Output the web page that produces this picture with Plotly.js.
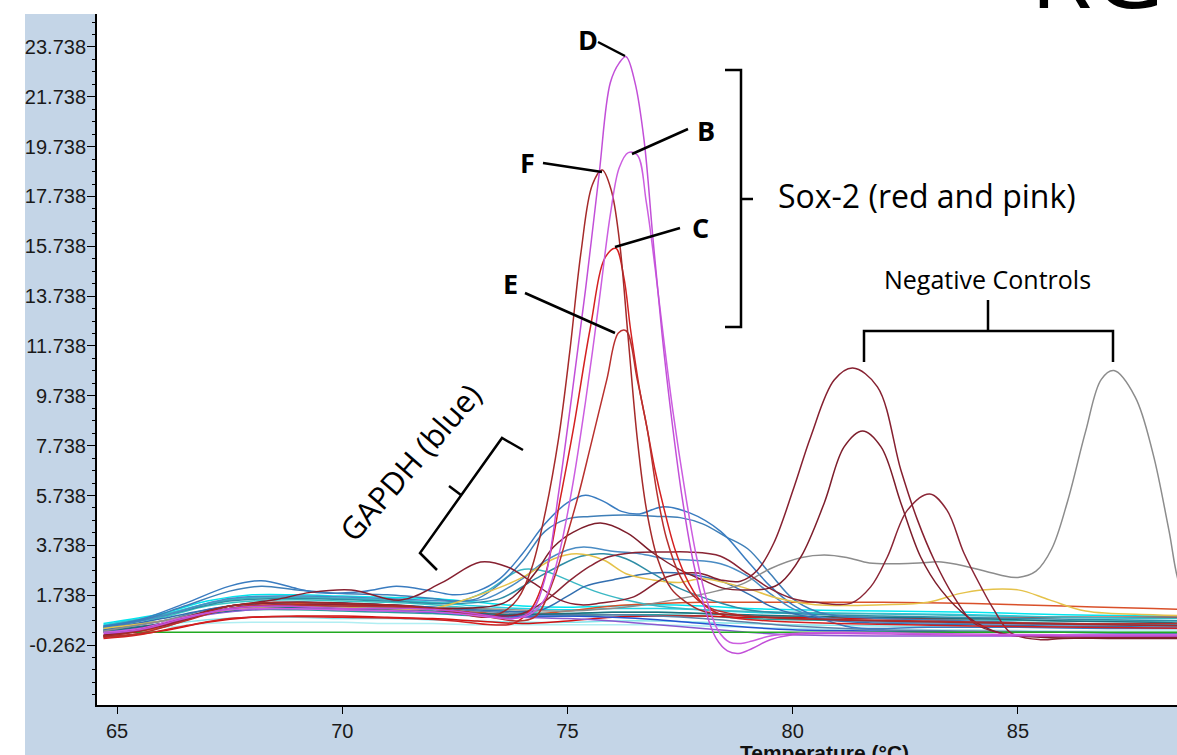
<!DOCTYPE html>
<html><head><meta charset="utf-8">
<script src="https://cdn.plot.ly/plotly-3.0.1.min.js"></script>
<style>
html,body{margin:0;padding:0;background:#fff;width:1177px;height:755px;overflow:hidden}
#panel{position:absolute;left:25px;top:14px;width:1152px;height:741px;background:#c4d5e7}
#chart{position:absolute;left:0;top:0;width:1177px;height:755px}
</style></head>
<body><div id="panel"></div><div id="chart"></div>
<script>
// ---------- tick labels ----------
const xTickVals = [65, 70, 75, 80, 85];
const xTickText = ['65', '70', '75', '80', '85'];
const yTickVals = [-0.262, 1.738, 3.738, 5.738, 7.738, 9.738, 11.738, 13.738, 15.738, 17.738, 19.738, 21.738, 23.738];
const yTickText = ['-0.262', '1.738', '3.738', '5.738', '7.738', '9.738', '11.738', '13.738', '15.738', '17.738', '19.738', '21.738', '23.738'];

// ---------- baseline wells (shared temperature grid, °C) ----------
const tempBase = [64.7, 66, 67, 68, 69, 70, 71, 72, 73, 74, 75, 76, 77, 78, 79, 80, 82, 84, 86, 88, 89];
const baseCyan1  = [0.6,1.0,1.5,1.75,1.75,1.7,1.65,1.6,1.45,1.3,1.25,1.3,1.35,1.3,1.2,1.15,1.1,1.05,0.95,0.9,0.9];
const baseCyan2  = [0.55,0.95,1.4,1.65,1.65,1.6,1.55,1.45,1.3,1.2,1.15,1.2,1.2,1.15,1.05,1.0,1.0,0.95,0.85,0.8,0.8];
const baseTurq   = [0.5,0.85,1.3,1.5,1.55,1.5,1.45,1.35,1.2,1.05,1.0,1.05,1.05,1.0,0.9,0.85,0.8,0.75,0.7,0.7,0.7];
const baseLCyan  = [0.4,0.55,0.75,0.85,0.85,0.8,0.8,0.75,0.7,0.65,0.65,0.7,0.7,0.65,0.6,0.55,0.5,0.45,0.45,0.4,0.4];
const basePCyan  = [0.35,0.45,0.6,0.65,0.65,0.65,0.6,0.6,0.55,0.55,0.55,0.55,0.55,0.5,0.45,0.4,0.35,0.35,0.3,0.3,0.3];
const baseTeal   = [0.45,0.7,1.0,1.15,1.15,1.1,1.05,1.0,0.9,0.85,0.9,0.95,0.95,0.9,0.8,0.75,0.7,0.65,0.6,0.55,0.55];
const baseRed    = [0.05,0.3,0.65,0.85,0.9,0.9,0.85,0.8,0.7,0.6,0.7,0.85,0.9,0.9,0.85,0.85,0.8,0.8,0.85,0.85,0.85];
const baseOrange = [0.1,0.45,1.0,1.35,1.4,1.35,1.3,1.2,1.05,0.95,1.1,1.3,1.4,1.45,1.45,1.45,1.45,1.4,1.3,1.2,1.15];
const basePurple = [0.25,0.55,0.95,1.15,1.2,1.15,1.1,1.05,0.95,0.85,0.8,0.7,0.55,0.4,0.25,0.15,0.1,0.1,0.1,0.1,0.1];
const baseDBlue  = [0.3,0.6,1.0,1.2,1.25,1.2,1.15,1.05,0.95,0.9,0.9,0.85,0.75,0.6,0.45,0.35,0.3,0.25,0.25,0.2,0.2];
const baseSteel  = [0.35,0.7,1.15,1.4,1.45,1.4,1.35,1.25,1.1,1.0,0.95,0.95,0.9,0.8,0.65,0.5,0.35,0.3,0.25,0.2,0.2];
const baseDTeal  = [0.3,0.6,1.0,1.2,1.25,1.2,1.15,1.1,1.0,0.95,1.0,1.05,1.05,1.0,0.95,0.9,0.85,0.8,0.7,0.65,0.6];
const baseGreen  = [0.25,0.25,0.25,0.25,0.25,0.25,0.25,0.25,0.25,0.25,0.25,0.25,0.25,0.25,0.25,0.25,0.25,0.25,0.25,0.25,0.25];

// ---------- GAPDH (blue) ----------
const g1T = [64.7,65.5,66.5,67.5,68.2,69,69.5,70.5,71.2,72,72.5,73,73.5,74,74.5,75,75.4,75.8,76.2,76.6,77.1,77.7,78.4,79,79.5,80,80.5,81.3,83,85,87,89];
const g1V = [0.5,0.75,1.4,2.1,2.32,2.0,1.83,1.9,2.1,1.9,1.75,1.9,2.4,3.4,4.6,5.45,5.75,5.5,5.1,5.0,5.28,5.05,4.3,3.1,2.1,1.35,0.9,0.45,0.45,0.45,0.4,0.4];
const g2T = [64.7,65.5,66.5,67.5,68.2,69,70,71,72,72.5,73,73.5,74,74.5,75,75.5,76,76.5,77,77.5,78,78.5,79,79.5,80,80.5,81,82,84,86,89];
const g2V = [0.45,0.7,1.3,1.9,2.1,1.95,1.8,1.75,1.6,1.5,1.6,2.2,3.1,4.3,4.8,4.9,4.95,4.95,4.9,4.85,4.6,4.1,3.6,2.6,1.6,1.1,0.9,0.8,0.7,0.6,0.6];
const g3T = [64.7,66,67.5,69,71,72.5,73.2,73.96,74.5,75,75.36,76,76.6,77.2,77.7,78.4,79,79.5,80,80.5,81.5,84,89];
const g3V = [0.4,0.9,1.6,1.7,1.6,1.5,1.6,2.35,3.1,3.55,3.67,3.5,3.4,3.2,3.15,3.0,2.5,1.8,1.2,0.9,0.7,0.6,0.5];
const g4T = [64.7,66,67.5,69,71,72.5,73.5,74.4,75,75.4,76,76.9,77.6,78.4,79,79.5,80,81,84,89];
const g4V = [0.35,0.8,1.3,1.45,1.35,1.2,1.1,1.14,1.7,2.1,2.35,2.63,2.6,2.3,1.8,1.3,1.0,0.7,0.55,0.45];
const g5T = [64.7,66,67.5,69,71,72.5,73.5,74.2,74.8,75.3,75.8,76.3,76.9,77.5,78.4,79,80,82,85,89];
const g5V = [0.45,0.9,1.5,1.6,1.5,1.4,1.6,2.3,2.9,3.3,3.4,3.2,2.6,2.0,1.42,1.15,1.0,0.9,0.8,0.7];
const t1T = [64.7,66,67.5,69,71,72.5,73.2,73.96,74.5,75,75.6,76.3,77,78,80,83,86,89];
const t1V = [0.5,0.95,1.55,1.65,1.55,1.45,1.9,2.75,2.7,2.35,1.9,1.54,1.3,1.15,1.05,0.95,0.85,0.8];

// ---------- other wells ----------
const yelT = [64.7,66,67.5,69,71,72,72.8,73.5,74,74.7,75.2,75.8,76.3,76.9,77.5,78,78.9,79.7,80.5,82,83,83.7,84.2,85,85.7,86.5,88,89];
const yelV = [0.4,0.7,1.15,1.3,1.2,1.2,1.6,2.05,2.45,3.2,3.4,3.15,2.6,2.35,2.25,2.4,2.05,1.6,1.35,1.35,1.45,1.8,1.95,1.95,1.55,1.1,0.95,0.9];

// ---------- negative controls ----------
const n1T = [64.7,65.5,66.5,67.5,68.5,69.3,70.2,71.3,72.2,73.07,73.67,74.24,74.84,75.3,75.73,76.47,77.2,77.9,78.4,78.84,79.22,79.58,80.03,80.4,80.92,81.33,81.88,82.4,82.77,83.14,83.58,84.02,84.6,85.5,87,89];
const n1V = [0.1,0.3,0.8,1.3,1.55,1.85,1.95,1.54,2.23,3.07,2.87,2.23,1.54,1.35,1.42,1.67,2.47,2.63,2.35,2.3,2.75,3.83,6.08,8.1,10.37,10.85,10.1,6.76,4.75,3.15,1.67,0.62,0.22,0.1,0.05,0.05];
const n2T = [64.7,66,67.5,69,71,72.5,73.58,73.96,74.33,74.69,75.13,75.73,76.33,76.9,77.5,78,78.5,79.0,79.44,79.73,80.18,80.7,81.14,81.55,81.96,82.4,82.84,83.29,83.89,84.6,85.5,87,89];
const n2V = [0.1,0.6,1.3,1.45,1.35,1.2,1.42,1.95,2.75,3.67,4.27,4.63,4.23,3.43,2.75,2.35,2.0,1.95,2.0,2.23,3.27,5.44,7.69,8.33,7.69,5.44,3.27,1.95,0.86,0.22,0.05,0.0,0.0];
const n3T = [64.7,66,67.5,69,71,72.5,73.5,74,74.5,75.07,75.5,75.9,76.5,77.2,77.67,78.4,79,79.5,80,80.5,81.3,81.73,82.1,82.55,83.04,83.42,83.8,84.18,84.47,84.84,85.5,86,89];
const n3V = [0.15,0.5,1.2,1.35,1.3,1.1,0.9,1.0,1.5,2.35,2.9,3.27,3.45,3.47,3.47,3.3,2.6,2.0,1.6,1.45,1.42,2.07,3.27,5.16,5.8,5.16,3.43,2.07,1.14,0.22,-0.05,0.0,0.05];
const grayT = [64.7,66,67.5,69,71,73,75,76.5,77.5,78.3,78.9,79.5,80.2,80.7,81.2,81.7,82.3,82.8,83.3,83.9,84.6,85,85.4,85.75,86.1,86.5,86.85,87.13,87.6,88,88.35,88.6,89];
const grayV = [0.3,0.7,1.2,1.3,1.25,1.2,1.1,1.3,1.6,1.9,2.2,2.8,3.25,3.35,3.25,3.03,3.0,3.03,3.07,2.87,2.55,2.45,2.7,3.6,5.5,8.3,10.4,10.75,9.7,7.4,4.35,2.07,0.8];

// ---------- Sox-2 (red and pink) ----------
const sDT = [64.7,65.5,66.5,67.5,68.5,70,71.5,72.5,73.3,73.8,74.2,74.5,74.8,75.1,75.4,75.7,75.95,76.15,76.3,76.5,76.7,76.9,77.1,77.3,77.55,77.8,78.05,78.3,78.55,78.8,79.1,79.5,80,81,83,86,89];
const sDV = [0.2,0.35,0.8,1.2,1.3,1.2,1.2,1.1,0.9,0.8,1.1,2.4,5.8,9.8,14.0,18.6,22.3,23.1,23.35,22.3,20.0,16.0,12.2,9.0,5.6,3.0,1.2,0.0,-0.5,-0.6,-0.4,-0.05,0.15,0.2,0.15,0.1,0.1];
const sBT = [64.7,65.5,66.5,67.5,68.5,70,71.5,72.5,73.3,73.8,74.2,74.5,74.8,75.1,75.4,75.7,75.95,76.15,76.35,76.55,76.75,76.95,77.15,77.35,77.6,77.85,78.1,78.35,78.6,78.85,79.1,79.5,80,81,83,86,89];
const sBV = [0.25,0.4,0.85,1.15,1.2,1.15,1.1,1.0,0.85,0.8,1.0,1.6,3.3,6.0,9.5,13.5,17.0,18.9,19.5,19.4,17.5,14.8,11.8,9.0,6.0,3.4,1.5,0.3,-0.15,-0.2,-0.1,0.1,0.2,0.25,0.2,0.15,0.15];
const sFT = [64.7,65.5,66.5,67.5,68.5,70,71.5,72.5,73.2,73.6,73.9,74.2,74.5,74.8,75.05,75.3,75.55,75.77,75.97,76.15,76.35,76.55,76.75,77.0,77.3,77.6,78,79,80,82,85,89];
const sFV = [0.1,0.3,0.8,1.3,1.45,1.4,1.3,1.05,0.85,1.1,1.6,2.8,5.0,8.0,11.5,15.5,18.2,18.8,18.0,16.0,12.0,8.0,5.2,3.2,2.0,1.5,1.1,0.9,0.8,0.7,0.6,0.5];
const sCT = [64.7,65.5,66.5,67.5,68.5,70,71.5,72.5,73.3,73.8,74.2,74.5,74.85,75.13,75.5,75.84,76.07,76.25,76.4,76.6,76.77,76.95,77.13,77.4,77.7,78,78.5,79.5,81,84,89];
const sCV = [0.0,0.15,0.5,0.8,0.88,0.85,0.8,0.7,0.55,0.6,1.2,2.5,5.7,8.4,12.4,15.3,15.66,14.5,12.4,10.0,8.4,6.7,5.3,3.5,2.2,1.4,0.9,0.7,0.6,0.5,0.4];
const sET = [64.7,65.5,66.5,67.5,68.5,70,71.5,72.5,73.3,73.9,74.3,74.7,75.0,75.25,75.51,75.87,76.13,76.3,76.55,76.77,76.99,77.2,77.5,77.8,78.2,79,80,83,86,89];
const sEV = [0.05,0.2,0.7,1.2,1.35,1.3,1.25,1.1,0.85,0.7,0.9,2.4,4.2,5.8,7.7,10.37,12.26,12.35,10.37,8.4,5.8,4.0,2.5,1.7,1.2,0.9,0.8,0.7,0.6,0.6];

// ---------- traces ----------
function curve(x, y, color) {
  return {x: x, y: y, type: 'scatter', mode: 'lines', hoverinfo: 'skip',
          line: {color: color, width: 1.5, shape: 'spline', smoothing: 1}};
}
const data = [
  curve(tempBase, baseCyan1, '#00e5ee'),
  curve(tempBase, baseCyan2, '#22d2e2'),
  curve(tempBase, baseTurq, '#36c9c6'),
  curve(tempBase, baseLCyan, '#86e4ea'),
  curve(tempBase, basePCyan, '#b0eef2'),
  curve(tempBase, baseTeal, '#2a9d9d'),
  curve(tempBase, baseRed, '#d41010'),
  curve(tempBase, baseOrange, '#d9502a'),
  curve(tempBase, basePurple, '#8a5ad0'),
  curve(tempBase, baseDBlue, '#2454d0'),
  curve(tempBase, baseSteel, '#5b7fa6'),
  curve(tempBase, baseDTeal, '#1f6f7c'),
  curve(tempBase, baseGreen, '#22aa22'),
  curve(t1T, t1V, '#3bb8c4'),
  curve(g5T, g5V, '#2f8da6'),
  curve(g4T, g4V, '#336fb0'),
  curve(g3T, g3V, '#4a8cc4'),
  curve(g2T, g2V, '#3f7fb8'),
  curve(g1T, g1V, '#3a7cc0'),
  curve(yelT, yelV, '#e5c24a'),
  curve(grayT, grayV, '#8c8c8c'),
  curve(n3T, n3V, '#8a2535'),
  curve(n2T, n2V, '#7d1d2b'),
  curve(n1T, n1V, '#862030'),
  curve(sCT, sCV, '#d42020'),
  curve(sET, sEV, '#b8302e'),
  curve(sFT, sFV, '#a52a2a'),
  curve(sBT, sBV, '#cc5ee0'),
  curve(sDT, sDV, '#c24fd8')
];

// ---------- page-pixel helpers for the overlay drawing ----------
const PL = 97, PT = 14, PW = 1080, PH = 691;
const X = px => (px - PL) / PW;
const Y = py => (PT + PH - py) / PH;
function seg(x0, y0, x1, y1) {
  return {type: 'line', xref: 'paper', yref: 'paper', x0: X(x0), y0: Y(y0), x1: X(x1), y1: Y(y1),
          line: {color: '#000', width: 2.5}};
}
function poly(pts) {
  let d = pts.map((p, i) => (i ? 'L' : 'M') + X(p[0]) + ',' + Y(p[1])).join(' ');
  return {type: 'path', xref: 'paper', yref: 'paper', path: d, line: {color: '#000', width: 2.5}};
}
function label(text, px, py, size, opts) {
  return Object.assign({xref: 'paper', yref: 'paper', x: X(px), y: Y(py), text: text, showarrow: false,
          xanchor: 'center', yanchor: 'middle',
          font: {family: 'Open Sans, sans-serif', size: size, color: '#000'}}, opts || {});
}

const shapes = [
  seg(598, 42, 625, 56),      // D leader
  seg(632, 154, 688, 129),    // B leader
  seg(543, 163, 602, 172),    // F leader
  seg(615, 247, 680, 228),    // C leader
  seg(525, 293, 615, 333),    // E leader
  poly([[725, 70], [741, 70], [741, 327], [725, 327]]),  // Sox-2 bracket
  seg(741, 199, 753, 199),
  poly([[864, 362], [864, 331], [1113, 331], [1113, 362]]), // negative controls bracket
  seg(988, 331, 988, 300),
  poly([[437, 570], [420, 553], [502, 438], [523, 450]]),  // GAPDH bracket
  seg(461, 495, 449, 486)
];

const annotations = [
  label('<b>D</b>', 588, 39, 27),
  label('<b>B</b>', 706, 130, 27),
  label('<b>F</b>', 527, 163, 27),
  label('<b>C</b>', 700, 227, 27),
  label('<b>E</b>', 510, 283, 27),
  label('Sox-2 (red and pink)', 776, 195, 32, {xanchor: 'left'}),
  label('Negative Controls', 987, 279, 25),
  label('GAPDH (blue)', 410, 462, 31, {textangle: -49}),
  label('RG', 1028, 39, 100, {xanchor: 'left', yanchor: 'bottom'}),
  label('<b>Temperature (°C)</b>', 824, 739, 21, {yanchor: 'top',
        font: {family: 'Liberation Sans, Arial, sans-serif', size: 21, color: '#111'}})
];

const xTickFont = {family: 'Liberation Sans, Arial, sans-serif', size: 20, color: '#1a1a1a'};
const yTickFont = {family: 'Liberation Sans, Arial, sans-serif', size: 20, color: '#1a1a1a'};
const layout = {
  width: 1177, height: 755, autosize: false,
  margin: {l: 97, r: 0, t: 14, b: 50, pad: 0},
  paper_bgcolor: 'rgba(0,0,0,0)', plot_bgcolor: '#ffffff',
  showlegend: false,
  xaxis: {range: [64.556, 88.53], tickmode: 'array', tickvals: xTickVals, ticktext: xTickText,
          ticks: 'outside', ticklen: 7, tickwidth: 1, tickcolor: '#000',
          showline: true, linecolor: '#000', linewidth: 2, mirror: false,
          showgrid: false, zeroline: false, tickfont: xTickFont, fixedrange: true},
  yaxis: {range: [-2.67, 25.062], tickmode: 'array', tickvals: yTickVals, ticktext: yTickText,
          ticks: 'outside', ticklen: 8, tickwidth: 1, tickcolor: '#000', ticklabelstandoff: -3,
          showline: true, linecolor: '#000', linewidth: 2,
          showgrid: false, zeroline: false, tickfont: yTickFont, fixedrange: true,
          minor: {tickmode: 'linear', tick0: -0.262, dtick: 0.5, ticks: 'outside', ticklen: 3,
                  tickwidth: 1, tickcolor: '#000', showgrid: false}},
  shapes: shapes,
  annotations: annotations
};

Plotly.newPlot('chart', data, layout, {staticPlot: true, displayModeBar: false});
</script></body></html>
